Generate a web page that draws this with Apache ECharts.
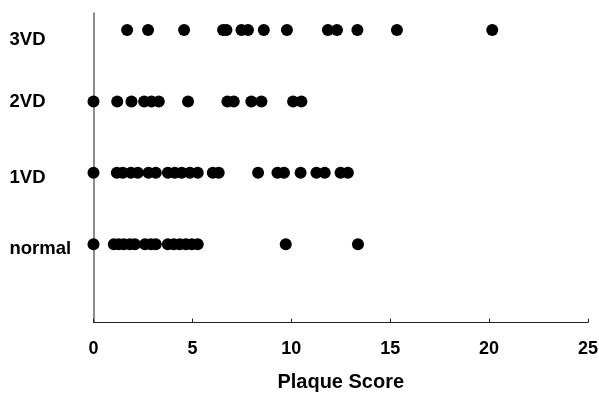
<!DOCTYPE html>
<html>
<head>
<meta charset="utf-8">
<script src="https://cdn.jsdelivr.net/npm/echarts@6/dist/echarts.min.js"></script>
<style>
html,body{margin:0;padding:0;background:#fff;}
#chart{width:599px;height:393px;}
</style>
</head>
<body>
<div id="chart"></div>
<script>
// Category names (bottom to top) and the row value of each
const categories = ['normal', '1VD', '2VD', '3VD'];
const rowValues = [1, 2, 3, 4];
// Label anchor positions on the y value scale (slightly offset as in the original)
const labelPositions = [0.934, 1.935, 3.0, 3.856];

// Plaque scores per group
const normalScores = [0, 1.03, 1.28, 1.54, 1.84, 2.09, 2.6, 2.9, 3.15, 3.76, 4.06, 4.36, 4.67, 4.97, 5.27, 9.72, 13.37];
const vd1Scores = [0, 1.18, 1.48, 1.89, 2.24, 2.78, 3.15, 3.76, 4.11, 4.46, 4.87, 5.27, 6.03, 6.33, 8.32, 9.30, 9.63, 10.47, 11.27, 11.69, 12.49, 12.86];
const vd2Scores = [0, 1.20, 1.92, 2.56, 2.93, 3.30, 4.78, 6.77, 7.09, 7.98, 8.49, 10.09, 10.51];
const vd3Scores = [1.70, 2.76, 4.58, 6.55, 6.72, 7.48, 7.81, 8.61, 9.78, 11.85, 12.31, 13.34, 15.34, 20.16];

const xTicks = [0, 5, 10, 15, 20, 25];
const xTitle = 'Plaque Score';

const groups = [normalScores, vd1Scores, vd2Scores, vd3Scores];
const points = [];
groups.forEach((arr, i) => arr.forEach(v => points.push([v, rowValues[i]])));

const font = '"Liberation Sans", Arial, sans-serif';
const chart = echarts.init(document.getElementById('chart'), null, {renderer: 'canvas'});
chart.setOption({
  animation: false,
  backgroundColor: '#fff',
  grid: {left: 93.5, right: 11, top: 13, bottom: 70.5, containLabel: false, outerBoundsMode: 'none'},
  xAxis: {
    type: 'value',
    min: xTicks[0],
    max: xTicks[xTicks.length - 1],
    interval: 5,
    splitLine: {show: false},
    axisLine: {show: true, onZero: false, lineStyle: {color: '#222', width: 1}},
    axisTick: {show: true, inside: true, length: 4, lineStyle: {color: '#222'}},
    axisLabel: {
      color: '#000', fontWeight: 'bold', fontSize: 18, fontFamily: font, margin: 18,
      customValues: xTicks
    },
    name: xTitle,
    nameLocation: 'middle',
    nameGap: 50,
    nameTextStyle: {color: '#000', fontWeight: 'bold', fontSize: 20, fontFamily: font}
  },
  yAxis: {
    type: 'value',
    min: -0.095,
    max: 4.238,
    splitLine: {show: false},
    axisLine: {show: true, onZero: false, lineStyle: {color: '#666', width: 1.5}},
    axisTick: {show: false},
    axisLabel: {
      customValues: labelPositions,
      align: 'left',
      margin: 84,
      color: '#000', fontWeight: 'bold', fontSize: 18.5, fontFamily: font,
      formatter: function (v) {
        let best = 0, d = Infinity;
        labelPositions.forEach((p, i) => { const dd = Math.abs(p - v); if (dd < d) { d = dd; best = i; } });
        return categories[best];
      }
    }
  },
  series: [{
    type: 'scatter',
    data: points,
    symbol: 'circle',
    symbolSize: 12,
    clip: false,
    itemStyle: {color: '#000', opacity: 1}
  }]
});
</script>
</body>
</html>
